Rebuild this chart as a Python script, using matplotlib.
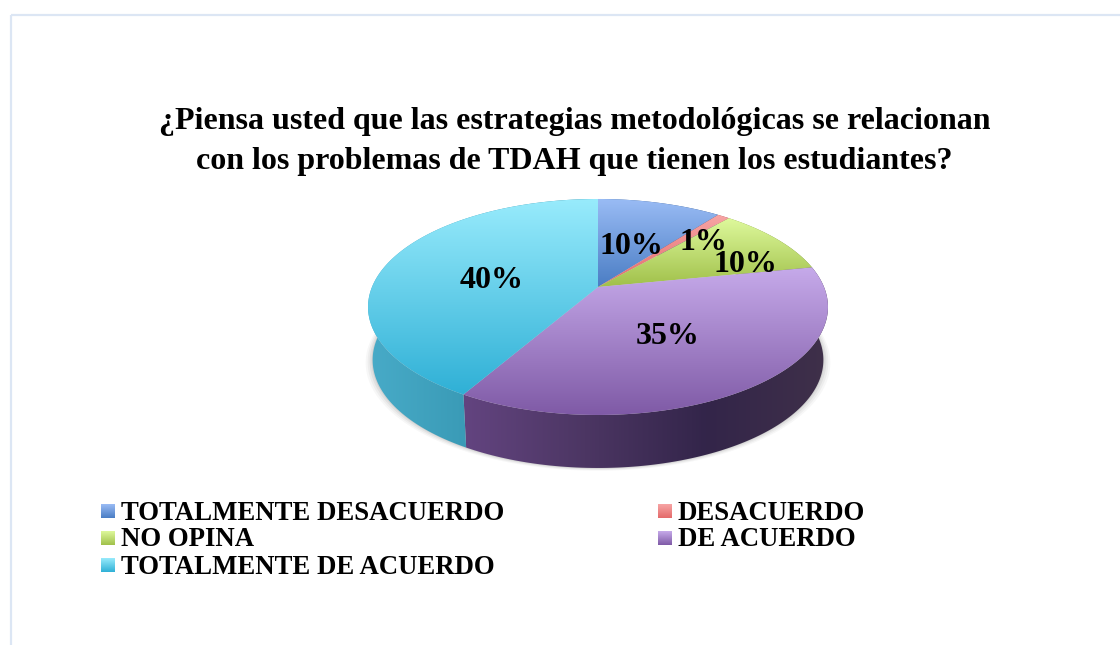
# -*- coding: utf-8 -*-
import numpy as np
import matplotlib
matplotlib.use("Agg")
import matplotlib.pyplot as plt
from matplotlib.colors import LinearSegmentedColormap
from matplotlib.patches import Polygon, Rectangle

categories = ["TOTALMENTE DESACUERDO", "DESACUERDO", "NO OPINA", "DE ACUERDO", "TOTALMENTE DE ACUERDO"]
values = [10, 1, 10, 35, 40]
pct_labels = ["10%", "1%", "10%", "35%", "40%"]
title_lines = ["¿Piensa usted que las estrategias metodológicas se relacionan",
               "con los problemas de TDAH que tienen los estudiantes?"]

top_colors = [("#9abcf5", "#4a7dc4"), ("#f7a5a5", "#e46a6a"), ("#def99c", "#a0c04a"),
              ("#c6aaea", "#7f5aa6"), ("#98ebfc", "#2fb0d6")]
side_colors = [("#3f6aa5", "#2c4d7d"), ("#b04c4c", "#8c3a3a"), ("#80993c", "#66792e"),
               ("#634480", "#4c3663", "#33254a", "#3f3049"), ("#48abc8", "#27859f")]
label_pos = [(631, 247), (703, 243), (745, 264), (668, 337), (492, 280)]
legend_pos = [(101, 511), (658, 511), (101, 538), (658, 538), (101, 565)]

CX, CY = 598, 287
RX, RY, PERSP = 226, 104.3, 0.185
DEPTH = 53
BOTTOM_SCALE = 0.98


def rim(theta):
    # perspective view of the unit circle, theta clockwise from 12 o'clock
    w = 1 + PERSP * np.cos(theta)
    return CX + RX * np.sin(theta) / w, CY - RY * np.cos(theta) / w


def gradient(ax, colors, box, vertical=True, clip=None, zorder=2):
    cmap = LinearSegmentedColormap.from_list("g", colors)
    ramp = np.linspace(0, 1, 256)
    ramp = ramp[:, None] if vertical else ramp[None, :]
    x0, x1, y0, y1 = box
    im = ax.imshow(ramp, cmap=cmap, extent=(x0, x1, y1, y0), origin="upper" if vertical else "lower",
                   aspect="auto", zorder=zorder, interpolation="bilinear")
    if clip is not None:
        clip.set_transform(ax.transData)
        im.set_clip_path(clip)


fig = plt.figure(figsize=(11.2, 6.45), dpi=100)
ax = fig.add_axes([0, 0, 1, 1])
ax.axis("off")

# chart frame, only top and left edges are inside the crop
ax.add_patch(Rectangle((10.5, 15), 1300, 800, fill=False, edgecolor="#dce6f4", linewidth=1.6, zorder=0))

for line, ty in zip(title_lines, [121, 161]):
    ax.text(574.5, ty, line, ha="center", va="center", fontsize=23.05, fontweight="bold",
            family="Liberation Serif", color="black")

edges = 2 * np.pi * np.concatenate([[0], np.cumsum(values)]) / np.sum(values)

# soft shadow under the pie
full = np.linspace(0, 2 * np.pi, 300)
sx, sy = rim(full)
for grow, alpha in zip([7, 5, 3, 1], [0.03, 0.04, 0.05, 0.07]):
    ax.add_patch(Polygon(np.c_[CX + (sx - CX) * (BOTTOM_SCALE + grow / 230), sy + DEPTH + grow * 0.4],
                         facecolor="black", edgecolor="none", alpha=alpha, zorder=1))

# walls first, the top face hides whatever is at the back
for i in range(len(values)):
    t = np.linspace(edges[i], edges[i + 1], 120)
    x, y = rim(t)
    low_x = CX + (x - CX) * BOTTOM_SCALE
    wall = Polygon(np.c_[np.r_[x, low_x[::-1]], np.r_[y, y[::-1] + DEPTH]], closed=True)
    gradient(ax, side_colors[i], (x.min(), x.max(), y.min(), y.max() + DEPTH), vertical=False, clip=wall)

# top face
for i in range(len(values)):
    t = np.linspace(edges[i], edges[i + 1], 120)
    x, y = rim(t)
    x = np.r_[CX, x]
    y = np.r_[CY, y]
    face = Polygon(np.c_[x, y], closed=True)
    gradient(ax, top_colors[i], (x.min(), x.max(), y.min(), y.max()), clip=face, zorder=3)

for lab, (px, py) in zip(pct_labels, label_pos):
    ax.text(px, py, lab, ha="center", va="center", fontsize=23, fontweight="bold",
            family="Liberation Serif", color="black", zorder=5)

# legend, row by row like the original
for name, colors, (px, py) in zip(categories, top_colors, legend_pos):
    gradient(ax, colors, (px, px + 14, py - 7, py + 7), zorder=4)
    ax.text(px + 20, py + 2, name, ha="left", va="center", fontsize=19.25, fontweight="bold",
            family="Liberation Serif", color="black", zorder=5)

ax.set_xlim(0, 1120)
ax.set_ylim(645, 0)

fig.savefig("out.png", dpi=100, facecolor="white")
